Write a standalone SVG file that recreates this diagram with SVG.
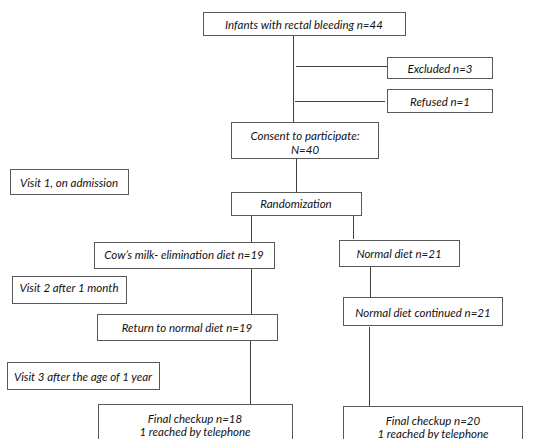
<svg xmlns="http://www.w3.org/2000/svg" width="543" height="439" viewBox="0 0 543 439">
<style>
.b{fill:#fff;stroke:#595959;stroke-width:1}
.c line{stroke:#404040;stroke-width:1}
text{font-family:"Lato","Open Sans","Liberation Sans",sans-serif;font-style:italic;font-size:11.5px;fill:#111;text-anchor:middle;dominant-baseline:central}
</style>
<rect width="543" height="439" fill="#fff"/>
<g class="c" id="connectors">
<line x1="293.5" y1="35" x2="293.5" y2="122"/>
<line x1="296" y1="66.5" x2="387" y2="66.5"/>
<line x1="295" y1="101.5" x2="385" y2="101.5"/>
<line x1="296.5" y1="158" x2="296.5" y2="192"/>
<line x1="251.5" y1="215" x2="251.5" y2="242"/>
<line x1="353.5" y1="214" x2="353.5" y2="239"/>
<line x1="251.5" y1="268" x2="251.5" y2="314"/>
<line x1="370.5" y1="266" x2="370.5" y2="297"/>
<line x1="250.5" y1="340" x2="250.5" y2="404"/>
<line x1="369.5" y1="327" x2="369.5" y2="406"/>
</g>
<g id="n1"><rect class="b" x="203.5" y="12.5" width="202" height="23"/><text x="304" y="24">Infants with rectal bleeding n=44</text></g>
<g id="n2"><rect class="b" x="387.5" y="57.5" width="105" height="21"/><text x="440" y="68">Excluded n=3</text></g>
<g id="n3"><rect class="b" x="387.5" y="89.5" width="105" height="23"/><text x="440" y="101">Refused n=1</text></g>
<g id="n4"><rect class="b" x="231.5" y="122.5" width="147" height="36"/><text x="305" y="135">Consent to participate:</text><text x="305" y="149">N=40</text></g>
<g id="n5"><rect class="b" x="10.5" y="169.5" width="118" height="25"/><text x="69" y="182">Visit 1, on admission</text></g>
<g id="n6"><rect class="b" x="231.5" y="192.5" width="130" height="23"/><text x="296" y="203">Randomization</text></g>
<g id="n7"><rect class="b" x="94.5" y="242.5" width="180" height="26"/><text x="184" y="254">Cow’s milk- elimination diet n=19</text></g>
<g id="n8"><rect class="b" x="339.5" y="240.5" width="120" height="26"/><text x="399" y="253">Normal diet n=21</text></g>
<g id="n9"><rect class="b" x="12.5" y="276.5" width="114" height="27"/><text x="69" y="287">Visit 2 after 1 month</text></g>
<g id="n10"><rect class="b" x="343.5" y="297.5" width="159" height="28"/><text x="423" y="312">Normal diet continued n=21</text></g>
<g id="n11"><rect class="b" x="97.5" y="314.5" width="180" height="26"/><text x="187" y="327">Return to normal diet n=19</text></g>
<g id="n12"><rect class="b" x="7.5" y="362.5" width="152" height="27"/><text x="83" y="376">Visit 3 after the age of 1 year</text></g>
<g id="n13"><rect class="b" x="98.5" y="404.5" width="194" height="40"/><text x="195" y="418">Final checkup n=18</text><text x="195" y="431">1 reached by telephone</text></g>
<g id="n14"><rect class="b" x="343.5" y="406.5" width="179" height="40"/><text x="433" y="420">Final checkup n=20</text><text x="433" y="433">1 reached by telephone</text></g>
</svg>
